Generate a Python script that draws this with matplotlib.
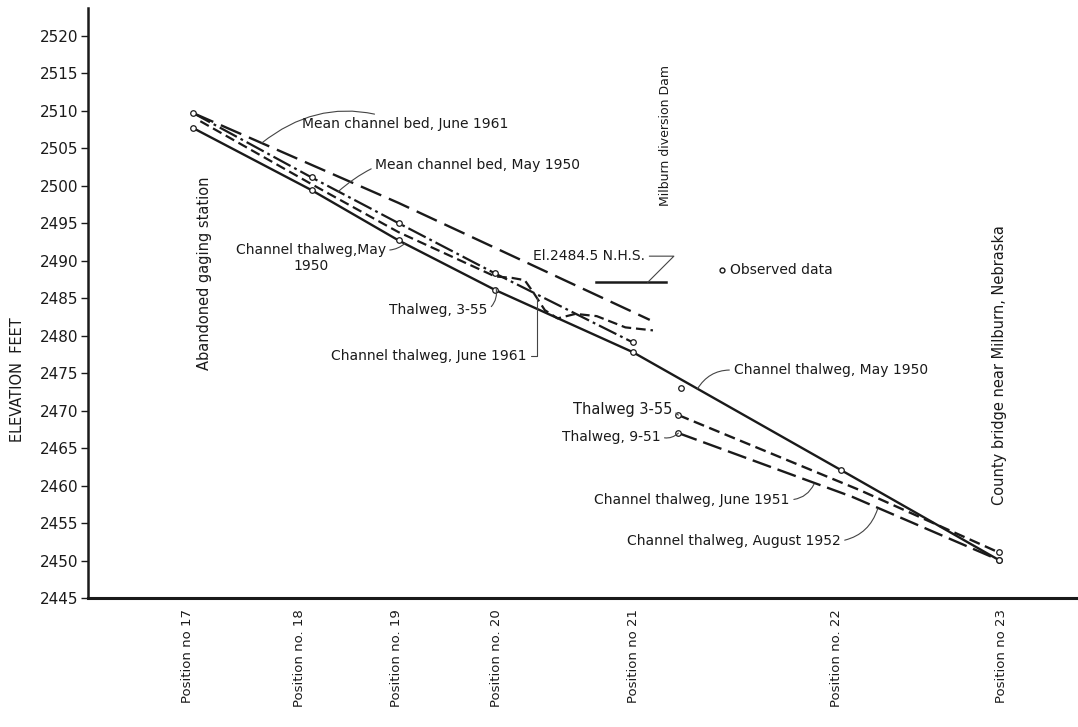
import numpy as np
import matplotlib.pyplot as plt

plt.rcParams['font.family'] = 'DejaVu Sans'
plt.rcParams['lines.scale_dashes'] = False

ink = '#1a1a1a'

# stations along the reach (distance units measured from position 17)
station_x = [0.09, 1.15, 2.06, 3.0, 4.3, 6.21, 7.77]
station_labels = ["Position no 17", "Position no. 18", "Position no. 19",
                  "Position no. 20", "Position no 21", "Position no. 22",
                  "Position no 23"]
elev_ticks = np.arange(2445, 2521, 5)

# channel thalweg, May 1950 (solid)
thal50_x = [0.14, 1.26, 2.08, 2.99, 4.29, 6.25, 7.74]
thal50_y = [2507.7, 2499.4, 2492.7, 2486.1, 2477.8, 2462.1, 2450.1]

# mean channel bed, May 1950 (dash-dot)
bed50_x = [0.14, 1.26, 2.08, 2.99, 4.29]
bed50_y = [2509.7, 2501.1, 2495.0, 2488.3, 2479.1]

# mean channel bed, June 1961 (long dash)
bed61_x = [0.14, 2.08, 4.45]
bed61_y = [2509.7, 2497.7, 2482.1]

# channel thalweg, June 1961 / thalweg 3-55 upstream of dam (short dash)
thal61_x = [0.21, 1.26, 2.08, 2.99, 3.15, 3.27, 3.35, 3.46, 3.58, 3.75, 3.95, 4.22, 4.48]
thal61_y = [2508.6, 2500.2, 2493.8, 2487.9, 2487.7, 2487.4, 2485.8, 2483.4,
            2482.3, 2482.9, 2482.6, 2481.1, 2480.7]

# below the dam: thalweg 3-55 (short dash) and thalweg 9-51 (long dash)
thal55_x = [4.72, 6.43, 7.74]
thal55_y = [2469.4, 2459.4, 2451.1]
thal51_x = [4.72, 6.36, 7.74]
thal51_y = [2467.0, 2458.5, 2450.1]

nhs_x = [3.94, 4.60]
nhs_y = [2487.1, 2487.1]

fig = plt.figure(figsize=(10.78, 7.27), dpi=100)
ax = fig.add_axes([0.0816, 0.1774, 0.9184, 0.8116])

mk = dict(marker='o', markersize=4, markerfacecolor='white', markeredgecolor=ink,
          markeredgewidth=0.9)

ax.plot(bed61_x, bed61_y, color=ink, lw=1.7, dashes=(16, 6))
ax.plot(thal61_x, thal61_y, color=ink, lw=1.6, dashes=(7, 3.5))
ax.plot(bed50_x, bed50_y, color=ink, lw=1.6, dashes=(14, 3, 2, 3), **mk)
ax.plot(thal50_x, thal50_y, color=ink, lw=1.7, **mk)
ax.plot(thal55_x, thal55_y, color=ink, lw=1.7, dashes=(8, 4), markevery=[0, 2], **mk)
ax.plot(thal51_x, thal51_y, color=ink, lw=1.7, dashes=(14, 5), markevery=[0, 2], **mk)
ax.plot(nhs_x, nhs_y, color=ink, lw=1.8)
ax.plot([4.74], [2473.0], linestyle='none', **mk)

lead = dict(arrowstyle='-', color='#444444', lw=0.8, shrinkA=1, shrinkB=0)
fs = 10

ax.annotate("Mean channel bed, June 1961", xy=(0.79, 2505.7), xytext=(1.17, 2508.2),
            ha='left', va='center', fontsize=fs, color=ink,
            arrowprops=dict(connectionstyle='arc3,rad=0.3', **lead))
ax.annotate("Mean channel bed, May 1950", xy=(1.51, 2499.2), xytext=(1.86, 2502.7),
            ha='left', va='center', fontsize=fs, color=ink,
            arrowprops=dict(connectionstyle='arc3,rad=0.3', **lead))
ax.annotate("Channel thalweg,May\n1950", xy=(2.14, 2492.3), xytext=(1.25, 2490.4),
            ha='center', va='center', ma='center', fontsize=fs, color=ink,
            arrowprops=dict(connectionstyle='arc3,rad=0.2', relpos=(1.0, 0.75), **lead))
ax.annotate("Thalweg, 3-55", xy=(3.0, 2486.4), xytext=(2.92, 2483.4),
            ha='right', va='center', fontsize=fs, color=ink,
            arrowprops=dict(connectionstyle='arc3,rad=0.3', relpos=(1.0, 0.5), **lead))
ax.annotate("Channel thalweg, June 1961", xy=(3.39, 2485.0), xytext=(3.29, 2477.3),
            ha='right', va='center', fontsize=fs, color=ink,
            arrowprops=dict(connectionstyle='angle,angleA=0,angleB=90', relpos=(1.0, 0.5), **lead))
ax.annotate("Channel thalweg, May 1950", xy=(4.90, 2472.9), xytext=(5.24, 2475.4),
            ha='left', va='center', fontsize=fs, color=ink,
            arrowprops=dict(connectionstyle='arc3,rad=0.3', relpos=(0.0, 0.5), **lead))
ax.annotate("Thalweg 3-55", xy=(4.72, 2469.4), xytext=(4.66, 2470.1),
            ha='right', va='center', fontsize=10.5, color=ink,
            arrowprops=dict(relpos=(1.0, 0.5), **lead))
ax.annotate("Thalweg, 9-51", xy=(4.72, 2467.0), xytext=(4.55, 2466.5),
            ha='right', va='center', fontsize=fs, color=ink,
            arrowprops=dict(connectionstyle='arc3,rad=0.3', relpos=(1.0, 0.5), **lead))
ax.annotate("Channel thalweg, June 1951", xy=(6.0, 2460.2), xytext=(5.77, 2458.1),
            ha='right', va='center', fontsize=fs, color=ink,
            arrowprops=dict(connectionstyle='arc3,rad=0.3', relpos=(1.0, 0.5), **lead))
ax.annotate("Channel thalweg, August 1952", xy=(6.6, 2456.9), xytext=(6.25, 2452.6),
            ha='right', va='center', fontsize=fs, color=ink,
            arrowprops=dict(connectionstyle='arc3,rad=0.3', relpos=(1.0, 0.5), **lead))
ax.annotate("El.2484.5 N.H.S.", xy=(4.43, 2487.1), xytext=(3.35, 2490.6),
            ha='left', va='center', fontsize=fs, color=ink,
            arrowprops=dict(connectionstyle='angle,angleA=0,angleB=45', relpos=(1.0, 0.5), **lead))

ax.plot([5.13], [2488.7], linestyle='none', marker='o', markersize=3.5,
        markerfacecolor='white', markeredgecolor=ink)
ax.text(5.21, 2488.7, "Observed data", ha='left', va='center', fontsize=fs, color=ink)

ax.text(0.25, 2488.3, "Abandoned gaging station", rotation=90, ha='center', va='center',
        fontsize=10.5, color=ink)
ax.text(4.60, 2506.7, "Milburn diversion Dam", rotation=90, ha='center', va='center',
        fontsize=9, color=ink)
ax.text(7.75, 2476.1, "County bridge near Milburn, Nebraska", rotation=90, ha='center',
        va='center', fontsize=10.5, color=ink)

ax.set_xlim(-0.85, 8.49)
ax.set_ylim(2445, 2523.7)
ax.set_yticks(elev_ticks)
ax.set_xticks(station_x)
ax.set_xticklabels(station_labels, rotation=90, fontsize=9.5, color=ink)
ax.tick_params(axis='x', length=0, pad=8)
ax.tick_params(axis='y', direction='out', length=5, width=1, labelsize=11,
               colors=ink, pad=2)
ax.set_ylabel("ELEVATION  FEET", fontsize=10.5, color=ink)
ax.yaxis.set_label_coords(-0.064, 0.37)

for side in ['top', 'right']:
    ax.spines[side].set_visible(False)
ax.spines['left'].set_linewidth(1.8)
ax.spines['bottom'].set_linewidth(2.2)
ax.spines['left'].set_color(ink)
ax.spines['bottom'].set_color(ink)

fig.savefig('out.png', dpi=100)
